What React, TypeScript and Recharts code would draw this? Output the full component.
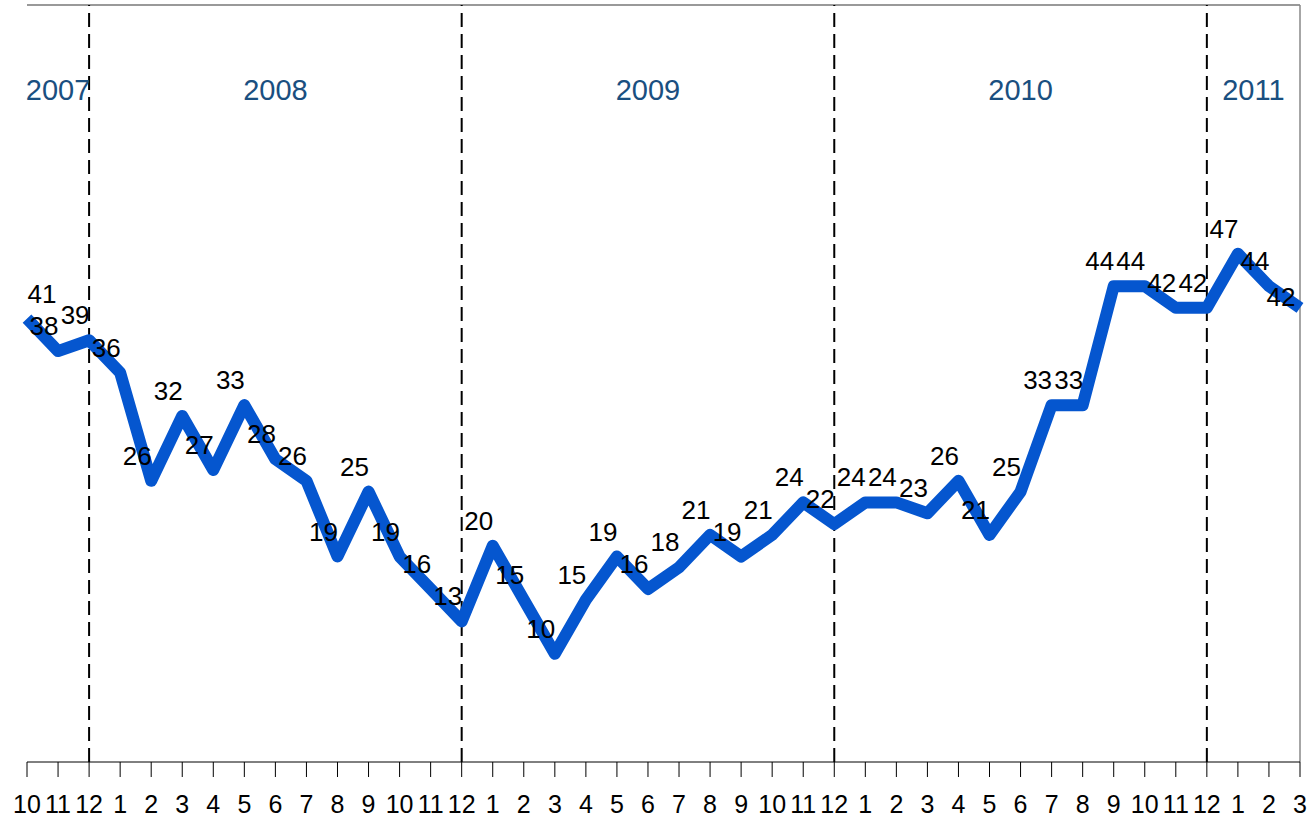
import React from 'react';
import {
  LineChart, Line, XAxis, YAxis, ReferenceLine, ReferenceDot, LabelList,
} from 'recharts';

const MONTHS = [
  '10', '11', '12',
  '1', '2', '3', '4', '5', '6', '7', '8', '9', '10', '11', '12',
  '1', '2', '3', '4', '5', '6', '7', '8', '9', '10', '11', '12',
  '1', '2', '3', '4', '5', '6', '7', '8', '9', '10', '11', '12',
  '1', '2', '3',
];

const VALUES = [
  41, 38, 39,
  36, 26, 32, 27, 33, 28, 26, 19, 25, 19, 16, 13,
  20, 15, 10, 15, 19, 16, 18, 21, 19, 21, 24, 22,
  24, 24, 23, 26, 21, 25, 33, 33, 44, 44, 42, 42,
  47, 44, 42,
];

const YEARS = ['2007', '2008', '2009', '2010', '2011'];

const W = 1307;
const H = 817;
const LINE_BLUE = '#0556cf';
const YEAR_BLUE = '#1a4f80';
const FONT = '"Liberation Sans", Arial, sans-serif';
const Y_MAX = 70;
const YEAR_LABEL_Y = 61.2;

const data = VALUES.map((v, i) => ({ i, v }));
const lastIdx = VALUES.length - 1;
const idxTicks = VALUES.map((_, i) => i);

// year breaks sit on every December
const breaks = MONTHS.map((m, i) => (m === '12' ? i : -1)).filter(i => i >= 0);
const bounds = [0, ...breaks, lastIdx];
const yearMids = YEARS.map((y, k) => ({ y, x: (bounds[k] + bounds[k + 1]) / 2 }));

const PLOT_LEFT = 27;

// eslint-disable-next-line @typescript-eslint/no-explicit-any
const renderValue = (props: any) => {
  const { x, y, value, index } = props;
  // the last label gets pushed back inside the frame
  const isLast = index === lastIdx;
  const cx = isLast ? x - 19 : Math.max(x - 14, PLOT_LEFT + 15);
  const cy = isLast ? y - 11 : y - 25;
  return (
    <text
      x={cx}
      y={cy}
      textAnchor="middle"
      dominantBaseline="central"
      fontSize={26}
      fontFamily={FONT}
      fill="#000"
    >
      {value}
    </text>
  );
};

export default function App() {
  return (
    <div style={{ position: 'absolute', left: 0, top: 0, width: W, height: H, background: '#fff', fontFamily: FONT }}>
      <LineChart width={W} height={H} data={data} margin={{ top: 5, right: 7, left: PLOT_LEFT, bottom: 0 }}>
        <XAxis
          dataKey="i"
          type="number"
          domain={[0, lastIdx]}
          ticks={idxTicks}
          interval={0}
          allowDecimals={false}
          tickFormatter={(i: number) => MONTHS[i]}
          height={55}
          tickSize={15}
          tickMargin={18}
          stroke="#000"
          tick={{ fill: '#000', fontSize: 25, fontFamily: FONT }}
        />
        <YAxis
          type="number"
          domain={[0, Y_MAX]}
          width={0}
          tick={false}
          tickLine={false}
          stroke="#000"
        />
        <ReferenceLine y={Y_MAX} stroke="#777" strokeWidth={1.5} />
        <ReferenceLine x={lastIdx} stroke="#888" strokeWidth={1.5} />
        {breaks.map(b => (
          <ReferenceLine key={b} x={b} stroke="#000" strokeWidth={2} strokeDasharray="14 7" />
        ))}
        {yearMids.map(ym => (
          <ReferenceDot
            key={ym.y}
            x={ym.x}
            y={YEAR_LABEL_Y}
            r={0}
            // eslint-disable-next-line @typescript-eslint/no-explicit-any
            shape={(p: any) => (
              <text x={p.cx} y={p.cy} textAnchor="middle" fontSize={29} fontFamily={FONT} fill={YEAR_BLUE}>
                {ym.y}
              </text>
            )}
          />
        ))}
        <Line
          dataKey="v"
          stroke={LINE_BLUE}
          strokeWidth={12}
          strokeLinejoin="round"
          dot={false}
          isAnimationActive={false}
        >
          <LabelList dataKey="v" content={renderValue} />
        </Line>
      </LineChart>
    </div>
  );
}
